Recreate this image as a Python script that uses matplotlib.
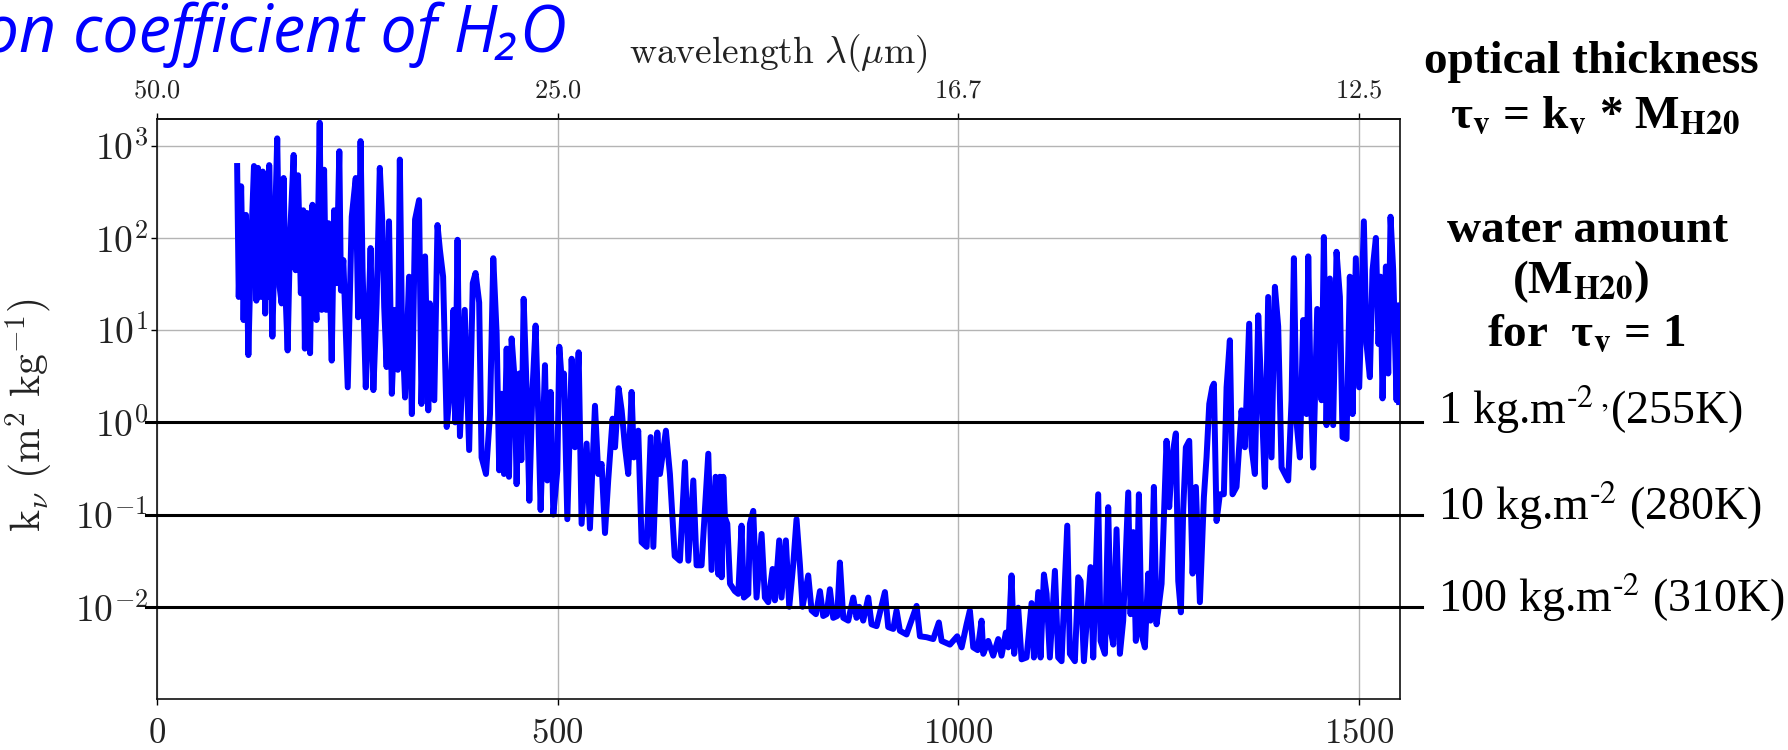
import numpy as np
import matplotlib
matplotlib.use("Agg")
import matplotlib.pyplot as plt
from matplotlib import font_manager as fm
from matplotlib.ticker import FixedLocator, FuncFormatter, NullLocator

# ---------------- data ----------------
# spectral sample index (bottom axis) of each vertex of the absorption curve
spectral_index = [
    100.0, 102.0, 105.0, 108.0, 111.0, 114.0, 117.0, 121.0, 124.0, 126.0,
    130.0, 132.0, 135.0, 136.5, 139.0, 140.0, 144.0, 146.5, 150.0, 153.0,
    155.5, 158.0, 160.5, 163.0, 166.0, 170.5, 173.0, 176.0, 179.5, 182.5,
    184.5, 187.5, 191.0, 194.0, 197.0, 199.0, 203.0, 205.5, 208.5, 211.0,
    214.0, 218.0, 221.0, 224.0, 227.5, 229.5, 232.5, 238.0, 243.0, 248.0,
    251.0, 254.0, 256.5, 260.5, 263.5, 266.5, 270.0, 274.0, 278.0, 281.0,
    283.5, 286.5, 289.5, 293.0, 297.0, 300.5, 303.0, 305.5, 309.5, 314.5,
    318.0, 322.0, 327.0, 330.0, 334.5, 338.5, 340.5, 346.0, 350.0, 353.0,
    357.0, 361.5, 367.0, 370.0, 372.0, 375.0, 378.0, 384.0, 389.5, 394.0,
    397.5, 402.0,
    405.0, 410.5, 415.5, 419.6, 423.8, 427.0, 430.0, 433.0, 436.3, 439.2,
    442.5, 446.3, 448.7, 452.0, 454.6, 457.5, 461.2, 464.6, 468.3, 472.4,
    475.8, 478.7, 484.1, 487.0, 491.2, 494.5, 499.5, 502.0, 505.0, 507.8,
    512.0, 517.4, 521.5, 526.1, 529.8, 536.1, 540.2, 546.5, 550.6, 554.8,
    559.0, 563.0, 568.5, 571.5, 576.0, 579.8, 584.0, 588.0, 592.2, 595.0,
    600.5, 604.7, 611.0, 616.0, 619.3, 624.3, 627.6, 635.0, 640.0, 646.0,
    652.5, 658.8, 663.0, 669.2, 673.3, 679.5, 687.9, 692.0, 697.0, 700.5,
    702.4, 704.5, 706.6, 708.6, 711.6, 715.0, 721.0, 725.3, 729.4, 732.3,
    737.8, 739.8, 744.0, 748.1, 754.4, 758.5, 762.7, 768.1, 771.0, 776.4,
    779.3, 784.7, 788.9, 793.9, 798.0, 802.2, 805.5, 812.6, 816.8, 822.2,
    827.2, 831.3, 835.5, 839.6, 843.8, 848.8, 852.1, 856.3, 862.5, 868.8,
    872.9, 876.2, 881.2, 887.5, 891.6, 897.9, 908.3, 912.4, 918.7, 922.8,
    927.0, 935.3, 947.8, 952.0, 960.3, 968.6, 975.6, 979.0, 989.4, 998.5,
    1004.0, 1010.2, 1014.3, 1018.5, 1024.0, 1028.9,
    1031.0, 1037.2, 1043.4, 1049.7, 1053.8, 1059.2, 1062.2, 1066.3, 1069.6, 1074.6,
    1078.8, 1085.0, 1091.3, 1094.2, 1099.6, 1102.5, 1106.7, 1110.0, 1114.1, 1120.4,
    1124.5, 1128.7, 1135.8, 1139.1, 1145.3, 1149.5, 1152.4, 1156.6, 1164.9, 1168.2,
    1174.4, 1177.4, 1182.8, 1186.9, 1190.2, 1193.2, 1197.3, 1201.5, 1205.6, 1211.9,
    1214.8, 1218.1, 1221.4, 1225.2, 1228.5, 1232.7, 1236.8, 1239.7, 1243.9, 1247.2,
    1253.5, 1259.7, 1263.0, 1267.2, 1271.3, 1274.3, 1277.6, 1280.5, 1283.8, 1288.0,
    1292.2, 1296.3, 1301.3, 1306.3, 1309.6, 1313.0, 1316.7, 1318.8, 1322.1, 1326.2,
    1331.2, 1334.6, 1338.7, 1342.0, 1347.0, 1353.3, 1357.4, 1362.8, 1365.7, 1369.9,
    1374.1, 1378.2, 1382.4, 1386.5, 1390.7, 1394.9, 1399.0, 1403.2, 1407.3, 1411.5,
    1415.7, 1418.6, 1421.9, 1426.1, 1430.2, 1434.4, 1436.5, 1439.4, 1442.7, 1447.7,
    1453.1, 1456.0, 1459.3, 1463.5, 1467.6, 1471.8, 1476.0, 1479.3, 1484.3, 1488.4,
    1491.8, 1495.9, 1500.1, 1505.9, 1509.2, 1513.4, 1516.7, 1520.9, 1524.2, 1526.7,
    1529.2, 1533.4, 1536.3, 1539.2, 1542.5, 1546.7, 1548.8, 1550.0,
]

# log10 of the absorption coefficient k_nu (m2/kg) at each vertex
log10_k = [
    2.78, 1.36, 2.56, 1.11, 2.25, 0.73, 1.80, 2.78, 1.32, 2.76,
    1.36, 2.72, 1.18, 2.67, 1.36, 2.79, 0.93, 1.87, 3.08, 1.47,
    1.29, 2.65, 1.36, 0.78, 2.01, 2.90, 1.65, 2.68, 1.40, 2.30,
    0.80, 2.27, 0.75, 2.36, 1.36, 1.11, 3.25, 1.22, 2.74, 1.22,
    2.16, 0.67, 2.30, 1.51, 2.94, 1.43, 1.76, 0.38, 2.23, 2.65,
    1.14, 3.05, 1.65, 0.38, 1.04, 1.89, 0.35, 1.29, 2.76, 2.20,
    1.25, 0.60, 2.18, 0.31, 1.22, 0.57, 2.85, 1.14, 0.27, 1.58,
    0.09, 2.20, 2.41, 0.20, 1.80, 0.13, 1.29, 0.24, 2.14, 1.87,
    1.58, -0.05, 0.49, 1.22, 0.00, 1.98, -0.15, 1.22, -0.30, 1.51,
    1.62, 1.30,
    -0.38, -0.56, 0.09, 1.78, 0.96, -0.52, 0.31, -0.56, 0.80, -0.59,
    0.91, 0.46, -0.67, 0.53, -0.41, 1.34, 0.35, -0.85, 0.31, 1.05,
    0.06, -0.95, 0.62, -0.63, 0.33, -1.00, -0.52, 0.82, 0.46, 0.53,
    -1.05, 0.69, -0.27, 0.76, -1.10, -0.23, -1.15, 0.18, -0.56, -0.45,
    -1.20, -0.63, 0.04, -0.27, 0.37, 0.13, -0.27, -0.56, 0.33, -0.38,
    -0.09, -1.30, -1.35, -0.16, -1.35, -0.11, -0.56, -0.09, -0.56, -1.45,
    -1.50, -0.43, -1.50, -0.63, -1.55, -1.55, -0.34, -1.60, -0.59, -1.65,
    -0.59, -1.68, -0.59, -1.03, -1.10, -1.75, -1.83, -1.86, -1.12, -1.90,
    -1.86, -1.10, -0.96, -1.90, -1.21, -1.90, -1.95, -1.59, -1.93, -1.28,
    -1.90, -1.28, -2.00, -1.54, -1.05, -1.54, -2.00, -1.66, -2.04, -2.08,
    -1.83, -2.10, -2.08, -1.81, -2.12, -2.10, -1.52, -2.12, -2.15, -1.90,
    -2.12, -2.00, -2.15, -1.90, -2.19, -2.21, -1.84, -2.22, -2.24, -2.04,
    -2.26, -2.30, -1.99, -2.32, -2.33, -2.35, -2.17, -2.37, -2.41, -2.32,
    -2.44, -2.19, -2.04, -2.44, -2.47, -2.15,
    -2.51, -2.37, -2.53, -2.35, -2.53, -2.28, -2.44, -1.66, -2.51, -2.01,
    -2.57, -2.55, -1.96, -2.55, -1.84, -2.55, -1.65, -1.86, -2.55, -1.61,
    -2.55, -2.59, -1.12, -2.51, -2.59, -1.68, -1.72, -2.59, -1.57, -2.55,
    -0.78, -2.37, -2.51, -0.92, -2.26, -2.41, -1.16, -2.51, -2.15, -0.76,
    -2.08, -1.19, -2.37, -0.78, -2.30, -2.44, -1.64, -2.15, -0.70, -2.19,
    -1.75, -0.20, -0.92, -0.34, -0.12, -1.72, -2.06, -0.95, -0.27, -0.20,
    -1.64, -0.70, -1.95, -0.81, -0.38, 0.20, 0.38, 0.42, -1.07, -0.78,
    -0.78, 0.38, 0.89, -0.78, -0.70, 0.13, -0.27, 1.07, -0.27, -0.56,
    1.16, 0.28, -0.70, 1.36, -0.38, 1.47, 1.04, -0.49, -0.56, -0.63,
    0.24, 1.78, 0.00, -0.38, 1.11, 0.09, 1.80, 0.38, -0.49, 1.23,
    0.24, 2.01, -0.03, 1.56, -0.03, 1.85, 1.36, -0.16, -0.18, 1.58,
    0.09, 1.78, 0.38, 2.18, 0.85, 0.49, 1.65, 2.00, 0.85, 1.58,
    0.26, 1.69, 0.53, 2.23, 1.65, 0.24, 1.27, 0.22,
]

bottom_ticks = [0, 500, 1000, 1500]
wavelength_tick_labels = ["50.0", "25.0", "16.7", "12.5"]   # top axis (micrometres)
y_decades = [-2, -1, 0, 1, 2, 3]
threshold_k = [1.0, 0.1, 0.01]                             # k for tau = 1
threshold_labels = [
    "1 kg.m$^{\\mathrm{\u2010}2\\ \\mathrm{,}}$(255K)",
    "10 kg.m$^{\\mathrm{\u2010}2}$ (280K)",
    "100 kg.m$^{\\mathrm{\u2010}2}$ (310K)",
]

# ---------------- style ----------------
plt.rcParams["mathtext.fontset"] = "cm"
W, H = 1788, 750


def px(x, y):
    return x / W, 1 - y / H


def pick_italic(cands):
    for fam in cands:
        for f in fm.fontManager.ttflist:
            if f.name == fam and f.style in ("italic", "oblique"):
                return fam
    return "DejaVu Sans"


title_family = pick_italic(["Open Sans", "Noto Sans", "Lato", "DejaVu Sans"])

fig = plt.figure(figsize=(W / 100, H / 100), dpi=100)
ax = fig.add_axes([157 / W, 51 / H, (1400 - 157) / W, (699 - 119) / H])

k_values = [10.0 ** v for v in log10_k]
ax.plot(spectral_index, k_values, color="#0000ff", lw=4.3, zorder=3)

for kk in threshold_k:
    ax.axhline(kk, xmin=-0.009, xmax=1.018, color="black", lw=2.2,
               clip_on=False, zorder=4)

ax.set_yscale("log")
ax.set_ylim(1e-3, 10 ** 3.29)
ax.set_xlim(0, 1551)

ax.yaxis.set_major_locator(FixedLocator([10.0 ** d for d in y_decades]))
ax.yaxis.set_minor_locator(NullLocator())
ax.yaxis.set_major_formatter(FuncFormatter(lambda v, p: r"$10^{%d}$" % round(np.log10(v))))
ax.xaxis.set_major_locator(FixedLocator(bottom_ticks))
ax.xaxis.set_major_formatter(FuncFormatter(lambda v, p: r"$%d$" % v))

ax.grid(True, which="major", color="#b4b4b4", lw=1.0)
for s in ax.spines.values():
    s.set_linewidth(1.2)
    s.set_color("#111111")

label_col = "#222222"
ax.tick_params(axis="y", direction="out", length=4.5, width=1.0, labelsize=27,
               pad=2, labelcolor=label_col)
ax.tick_params(axis="x", direction="out", length=4.5, width=1.0, labelsize=25,
               pad=8, labelcolor=label_col)

ax.set_ylabel(r"$\mathrm{k}_{\nu}\ (\mathrm{m}^{2}\ \mathrm{kg}^{-1})$",
              fontsize=30, color=label_col)
ax.yaxis.set_label_coords(-0.082, 0.49)

sec = ax.secondary_xaxis("top")
sec.set_xticks(bottom_ticks, labels=[r"$%s$" % s for s in wavelength_tick_labels])
sec.tick_params(axis="x", direction="out", length=4.5, width=1.0, labelsize=19,
                pad=7, labelcolor=label_col)
sec.spines["top"].set_linewidth(1.2)
sec.set_xlabel(r"$\mathrm{wavelength}\ \lambda(\mu\mathrm{m})$", fontsize=27,
               color=label_col, labelpad=10)

# title (cut at the left edge as in the reference)
fig.text(*px(567, 52), "absorption coefficient of H\u2082O", ha="right",
         va="baseline", color="#0000ff", fontsize=46.5, style="italic",
         family=[title_family, "DejaVu Sans"])

# right-hand annotations
serif = "Liberation Serif"
bold_kw = dict(family=serif, fontweight="bold", fontsize=34, ha="center",
               va="center", math_fontfamily="stix", color="black")
fig.text(*px(1591, 62), "optical thickness", **bold_kw)
fig.text(*px(1595, 116), "\u03c4$_{\\mathbf{v}}$ = k$_{\\mathbf{v}}$ * M$_{\\mathbf{H20}}$",
         **bold_kw)
fig.text(*px(1588, 231), "water amount", **bold_kw)
fig.text(*px(1581, 282), "(M$_{\\mathbf{H20}}$)", **bold_kw)
fig.text(*px(1586, 334), "for  \u03c4$_{\\mathbf{v}}$ = 1", **bold_kw)

reg_kw = dict(family=serif, fontsize=33, ha="left", va="center",
              math_fontfamily="stix", color="black")
for lab, yy in zip(threshold_labels, [410, 506, 598]):
    fig.text(*px(1438, yy), lab, **reg_kw)

fig.savefig("out.png", dpi=100)
